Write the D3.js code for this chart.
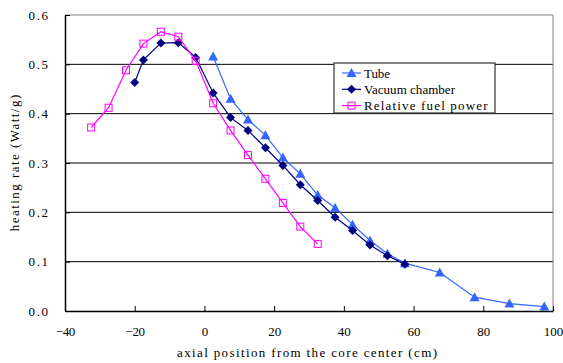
<!DOCTYPE html>
<html>
<head>
<meta charset="utf-8">
<script src="https://cdn.jsdelivr.net/npm/d3@7"></script>
<style>
  body { margin: 0; background: #fff; }
  text { font-family: "Liberation Serif", "DejaVu Serif", serif; font-size: 13px; fill: #000; }
</style>
</head>
<body>
<svg id="chart" width="563" height="363"></svg>
<script>
// data
const tubeX = [2.5, 7.5, 12.5, 17.5, 22.5, 27.5, 32.5, 37.5, 42.5, 47.5, 52.5, 57.5, 67.5, 77.5, 87.5, 97.5];
const tubeY = [0.516, 0.430, 0.388, 0.356, 0.311, 0.278, 0.235, 0.209, 0.175, 0.143, 0.116, 0.097, 0.078, 0.028, 0.015, 0.009];

const vacuumX = [-20, -17.5, -12.5, -7.5, -2.5, 2.5, 7.5, 12.5, 17.5, 22.5, 27.5, 32.5, 37.5, 42.5, 47.5, 52.5, 57.5];
const vacuumY = [0.463, 0.509, 0.543, 0.544, 0.514, 0.442, 0.392, 0.366, 0.331, 0.295, 0.256, 0.224, 0.190, 0.163, 0.134, 0.112, 0.095];

const fuelX = [-32.5, -27.5, -22.5, -17.5, -12.5, -7.5, -2.5, 2.5, 7.5, 12.5, 17.5, 22.5, 27.5, 32.5];
const fuelY = [0.372, 0.412, 0.488, 0.542, 0.566, 0.556, 0.507, 0.421, 0.366, 0.316, 0.268, 0.219, 0.171, 0.136];

const xTicks = [-40, -20, 0, 20, 40, 60, 80, 100];
const yTicks = [0, 0.1, 0.2, 0.3, 0.4, 0.5, 0.6];

const seriesNames = ['Tube', 'Vacuum chamber', 'Relative fuel power'];

const series = [
  { name: seriesNames[0], xs: tubeX, ys: tubeY, color: '#3366ff', marker: 'triangle' },
  { name: seriesNames[1], xs: vacuumX, ys: vacuumY, color: '#000080', marker: 'diamond' },
  { name: seriesNames[2], xs: fuelX, ys: fuelY, color: '#ff00ff', marker: 'square' }
];

const margin = { top: 15, right: 10, bottom: 52, left: 65 };
const width = 563, height = 363;
const charW = 6.5; // fixed pitch of the original font

const svg = d3.select('#chart');

const x = d3.scaleLinear().domain([-40, 100]).range([margin.left, width - margin.right]);
const y = d3.scaleLinear().domain([0, 0.6]).range([height - margin.bottom, margin.top]);

// make every text as wide as the fixed-pitch original
function pitch(sel) {
  sel.each(function() {
    const t = d3.select(this);
    const n = t.text().length;
    t.attr('textLength', n * charW).attr('lengthAdjust', 'spacing');
  });
}

// gridlines
svg.append('g')
  .selectAll('line')
  .data(yTicks.filter(d => d > 0 && d < 0.6))
  .join('line')
  .attr('x1', x(-40)).attr('x2', x(100))
  .attr('y1', d => y(d)).attr('y2', d => y(d))
  .attr('stroke', '#000').attr('stroke-width', 1);

// top and right frame
svg.append('path')
  .attr('d', `M${x(-40)},${y(0.6)}H${x(100)}V${y(0)}`)
  .attr('fill', 'none')
  .attr('stroke', '#808080')
  .attr('stroke-width', 1);

// axes
const xAxis = g => g
  .attr('transform', `translate(0,${y(0)})`)
  .call(d3.axisBottom(x).tickValues(xTicks).tickSizeInner(-5).tickSizeOuter(0).tickPadding(16).tickFormat(d3.format('d')))
  .call(g => g.select('.domain').attr('stroke', '#000').attr('stroke-width', 1.5));

const yAxis = g => g
  .attr('transform', `translate(${x(-40)},0)`)
  .call(d3.axisLeft(y).tickValues(yTicks).tickSizeInner(-5).tickSizeOuter(0).tickPadding(17).tickFormat(d3.format('.1f')))
  .call(g => g.select('.domain').attr('stroke', '#000').attr('stroke-width', 1.5));

svg.append('g').call(xAxis);
svg.append('g').call(yAxis);
svg.selectAll('.tick text').attr('font-family', null).attr('font-size', null).call(pitch);

// axis titles
svg.append('text')
  .attr('x', (x(-40) + x(100)) / 2 - 2)
  .attr('y', 357)
  .attr('text-anchor', 'middle')
  .text('axial position from the core center (cm)')
  .call(pitch);

svg.append('text')
  .attr('transform', `translate(19,${(y(0) + y(0.6)) / 2}) rotate(-90)`)
  .attr('text-anchor', 'middle')
  .text('heating rate (Watt/g)')
  .call(pitch);

function drawMarker(g, type, color, cx, cy) {
  if (type === 'triangle') {
    g.append('path')
      .attr('d', `M${cx},${cy - 5}L${cx + 5},${cy + 4}L${cx - 5},${cy + 4}Z`)
      .attr('fill', color);
  } else if (type === 'diamond') {
    g.append('path')
      .attr('d', `M${cx},${cy - 4.5}L${cx + 4.5},${cy}L${cx},${cy + 4.5}L${cx - 4.5},${cy}Z`)
      .attr('fill', color);
  } else {
    g.append('rect')
      .attr('x', cx - 3.5).attr('y', cy - 3.5)
      .attr('width', 7).attr('height', 7)
      .attr('fill', 'none')
      .attr('stroke', color)
      .attr('stroke-width', 1);
  }
}

const line = d3.line().x(d => x(d[0])).y(d => y(d[1]));

series.forEach(s => {
  const pts = s.xs.map((v, i) => [v, s.ys[i]]);
  const g = svg.append('g');
  g.append('path')
    .datum(pts)
    .attr('fill', 'none')
    .attr('stroke', s.color)
    .attr('stroke-width', 1.2)
    .attr('d', line);
  pts.forEach(p => drawMarker(g, s.marker, s.color, x(p[0]), y(p[1])));
});

// legend
const legend = svg.append('g').attr('transform', 'translate(334,63)');
legend.append('rect')
  .attr('x', 0).attr('y', 0)
  .attr('width', 161).attr('height', 50)
  .attr('fill', '#fff')
  .attr('stroke', '#333')
  .attr('stroke-width', 1.2);

series.forEach((s, i) => {
  const ly = 10 + i * 16.3;
  const row = legend.append('g');
  row.append('line')
    .attr('x1', 8).attr('x2', 27)
    .attr('y1', ly).attr('y2', ly)
    .attr('stroke', s.color).attr('stroke-width', 1.2);
  drawMarker(row, s.marker, s.color, 17.5, ly);
  row.append('text')
    .attr('x', 30)
    .attr('y', ly + 4.5)
    .text(s.name)
    .call(pitch);
});
</script>
</body>
</html>
